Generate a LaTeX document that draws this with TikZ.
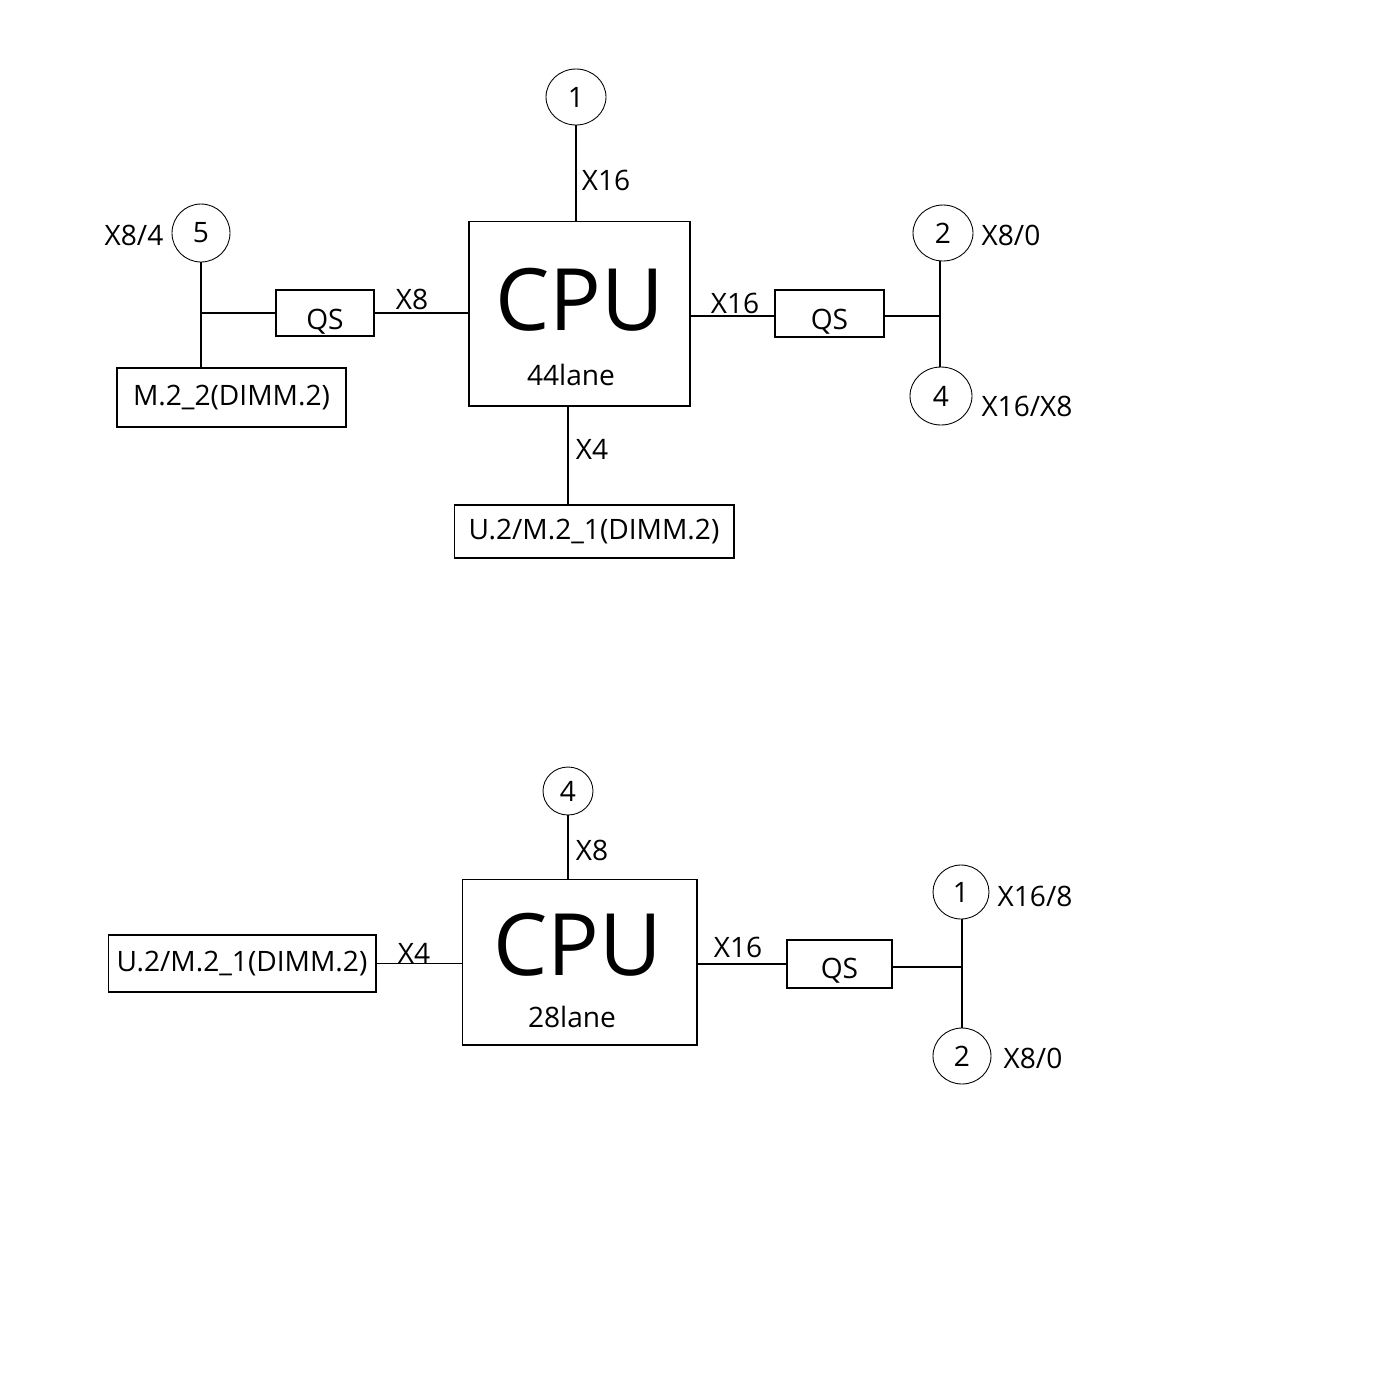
\documentclass[tikz,border=0pt]{standalone}
\usepackage{fontspec}
\setmainfont{Open Sans}
\usepackage{tikz}
\usetikzlibrary{shapes.geometric}

\tikzset{
  pbox/.style={draw, inner sep=0pt, line width=0.6pt},
  port/.style={draw, ellipse, inner sep=0pt, line width=0.5pt},
  lbl/.style={inner sep=0pt},
}
\newcommand{\lblfont}{\fontsize{16}{19}\selectfont}
\newcommand{\cpufont}{\fontsize{49}{55}\selectfont}

\begin{document}
\begin{tikzpicture}[x=0.02cm, y=-0.02cm, font=\lblfont, line width=0.6pt]
\useasboundingbox (0,0) rectangle (1387,1384);

% ---- 44 lane CPU ----
\node[pbox, minimum width=4.42cm, minimum height=3.70cm] (cpuA) at (579.5,313.5) {};
\node[lbl, font=\cpufont] (cpuAtxt) at (580,300) {CPU};
\node[lbl] (cpuAlane) at (571,375) {44lane};
\node[port, minimum width=1.2cm, minimum height=1.12cm] (a1) at (576,97) {\raisebox{-1.5pt}{1}};
\node[port, minimum width=1.16cm, minimum height=1.16cm] (a5) at (201,233) {\raisebox{-1pt}{5}};
\node[port, minimum width=1.2cm, minimum height=1.12cm] (a2) at (943,233) {\raisebox{-1.5pt}{2}};
\node[port, minimum width=1.24cm, minimum height=1.16cm] (a4) at (941,396) {4};
\node[pbox, minimum width=1.96cm, minimum height=0.92cm, label={[yshift=-0.17cm]center:QS}] (qsAl) at (325,313) {};
\node[pbox, minimum width=2.18cm, minimum height=0.94cm, label={[yshift=-0.17cm]center:QS}] (qsAr) at (829.5,313.5) {};
\node[pbox, minimum width=4.58cm, minimum height=1.18cm] (m2A) at (231.5,397.5) {M.2\_2(DIMM.2)};
\node[pbox, minimum width=5.6cm, minimum height=1.06cm] (u2A) at (594,531.5) {U.2/M.2\_1(DIMM.2)};

\coordinate (jAl) at (a5.south |- qsAl.west);
\coordinate (jAr) at (940,316);
\draw (a1.south) -- (a1.south |- cpuA.north);
\draw (qsAl.east) -- (qsAl.east -| cpuA.west);
\draw (qsAl.west) -- (jAl);
\draw (a5.south) -- (a5.south |- m2A.north);
\draw (cpuA.east |- jAr) -- (qsAr.west |- jAr);
\draw (qsAr.east |- jAr) -- (jAr);
\draw (jAr |- a2.south) -- (jAr |- a4.north);
\draw (568,406) -- (568,505);

\node[lbl] (xA1) at (606,180) {X16};
\node[lbl] (xA2) at (412,299) {X8};
\node[lbl] (xA3) at (735,303) {X16};
\node[lbl] (xA4) at (592,449) {X4};
\node[lbl] (xA5) at (134,235) {X8/4};
\node[lbl] (xA6) at (1011,235) {X8/0};
\node[lbl] (xA7) at (1027,406) {X16/X8};

% ---- 28 lane CPU ----
\node[pbox, minimum width=4.7cm, minimum height=3.32cm] (cpuB) at (579.5,962) {};
\node[lbl, font=\cpufont] (cpuBtxt) at (578,945) {CPU};
\node[lbl] (cpuBlane) at (572,1017) {28lane};
\node[port, minimum width=1.0cm, minimum height=0.96cm] (b4) at (568,791) {\raisebox{-1.5pt}{4}};
\node[port, minimum width=1.12cm, minimum height=1.08cm] (b1) at (961,892) {1};
\node[port, minimum width=1.16cm, minimum height=1.12cm] (b2) at (962,1056) {2};
\node[pbox, minimum width=5.36cm, minimum height=1.14cm] (u2B) at (242,963.5) {U.2/M.2\_1(DIMM.2)};
\node[pbox, minimum width=2.1cm, minimum height=0.96cm, label={[yshift=-0.14cm]center:QS}] (qsB) at (839.5,964) {};

\coordinate (jB) at (962,967);
\draw (b4.south) -- (b4.south |- cpuB.north);
\draw (u2B.east) -- (u2B.east -| cpuB.west);
\draw (cpuB.east |- qsB.west) -- (qsB.west);
\draw (qsB.east |- jB) -- (jB);
\draw (jB |- b1.south) -- (jB |- b2.north);

\node[lbl] (xB1) at (592,850) {X8};
\node[lbl] (xB2) at (414,953) {X4};
\node[lbl] (xB3) at (738,947) {X16};
\node[lbl] (xB4) at (1035,896) {X16/8};
\node[lbl] (xB5) at (1033,1058) {X8/0};
\end{tikzpicture}
\end{document}
